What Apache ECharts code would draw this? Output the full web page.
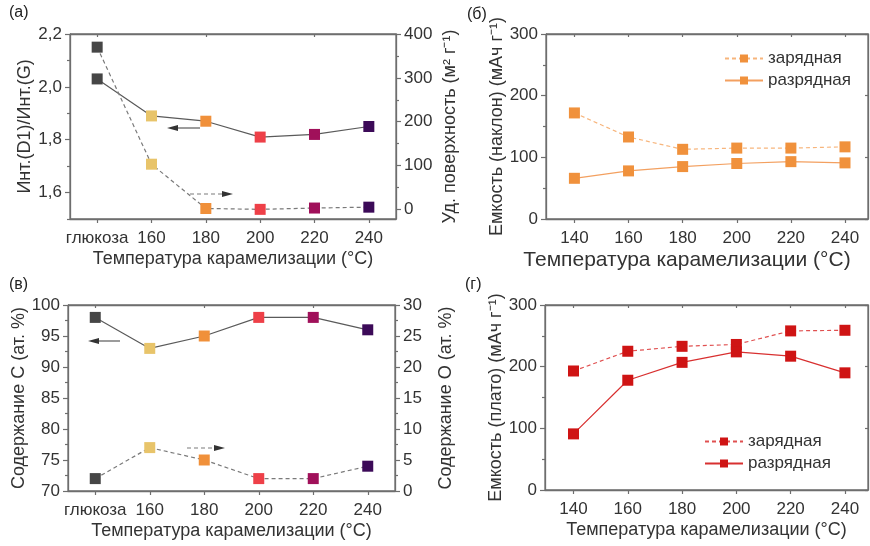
<!DOCTYPE html>
<html><head><meta charset="utf-8">
<script src="https://cdn.jsdelivr.net/npm/echarts@6/dist/echarts.min.js"></script>
<style>html,body{margin:0;padding:0;background:#fff}#c{width:870px;height:546px}</style>
</head><body><div id="c"></div>
<script>
// ---- data ----
const catsA = ['глюкоза', '160', '180', '200', '220', '240'];
const ratioD1G = [2.03, 1.89, 1.87, 1.81, 1.82, 1.85];
const surfaceArea = [370, 103, 2, 0, 3, 5];
const pointColors = ['#464646', '#e8c46a', '#f0903a', '#ee4048', '#a0105a', '#3c0a58'];
const contentC = [98, 93, 95, 98, 98, 96];
const contentO = [2, 7, 5, 2, 2, 4];
const tempsB = [140, 160, 180, 200, 220, 240];
const slopeCharge = [172, 133, 113, 115, 115, 117];
const slopeDischarge = [66, 78, 85, 90, 93, 91];
const plateauCharge = [193, 225, 233, 236, 258, 259];
const plateauDischarge = [91, 178, 207, 224, 217, 190];
const leftTicksA = [1.6, 1.8, 2.0, 2.2];
const leftMinorA = [1.5, 1.7, 1.9, 2.1];
const rightTicksA = [0, 100, 200, 300, 400];
const rightMinorA = [50, 150, 250, 350];

const FONT = 'Liberation Sans';
const TXT = '#333';
const AX = '#6e6e6e';

const chart = echarts.init(document.getElementById('c'));

const G = [
  {left: 70, top: 34, width: 326, height: 185},
  {left: 546, top: 34, width: 322, height: 185},
  {left: 68, top: 305, width: 327, height: 186},
  {left: 545, top: 305, width: 323, height: 185}
];

function lbl(extra) { return Object.assign({color: TXT, fontSize: 17, fontFamily: FONT}, extra || {}); }
function nameSt(extra) { return Object.assign({color: TXT, fontSize: 18, fontFamily: FONT}, extra || {}); }
function axLine() { return {show: true, onZero: false, lineStyle: {color: AX, width: 1.3}}; }
function tick(len, inside, extra) { return Object.assign({show: true, length: len, inside: !!inside, lineStyle: {color: AX, width: 1.2}}, extra || {}); }

function catBottom(grid, data) {
  return {type: 'category', gridIndex: grid, data: data, position: 'bottom',
    axisLine: axLine(), axisTick: tick(4, false, {alignWithLabel: true}),
    axisLabel: lbl({margin: 11, interval: 0}),
    name: 'Температура карамелизации (°C)', nameLocation: 'middle', nameGap: 31, nameTextStyle: nameSt()};
}
function catTop(grid, data) {
  return {type: 'category', gridIndex: grid, data: data, position: 'top',
    axisLine: axLine(), axisTick: tick(3, true, {alignWithLabel: true}),
    axisLabel: {show: false}};
}
function valBottom(grid, big) {
  return {type: 'value', gridIndex: grid, min: 129.5, max: 248.5, position: 'bottom',
    axisLine: axLine(), splitLine: {show: false},
    axisTick: tick(4, false, {customValues: tempsB}),
    axisLabel: lbl({margin: 11, customValues: tempsB}),
    name: 'Температура карамелизации (°C)', nameLocation: 'middle', nameGap: 31,
    nameTextStyle: nameSt(big ? {fontSize: 21, padding: [0, 40, 0, 0]} : {})};
}
function valTop(grid) {
  return {type: 'value', gridIndex: grid, min: 129.5, max: 248.5, position: 'top',
    axisLine: axLine(), splitLine: {show: false},
    axisTick: tick(3, true, {customValues: tempsB}),
    axisLabel: {show: false}};
}

const xAxis = [
  catBottom(0, catsA), catTop(0, catsA),
  valBottom(1, true), valTop(1),
  catBottom(2, catsA), catTop(2, catsA),
  valBottom(3, false), valTop(3)
];

function minorT() { return {show: true, splitNumber: 2, length: 3, lineStyle: {color: AX, width: 1.2}}; }

const yAxis = [
  {type: 'value', gridIndex: 0, min: 1.5, max: 2.2, position: 'left', splitLine: {show: false},
    axisLine: axLine(), axisTick: tick(5, false, {customValues: leftTicksA}),
    axisLabel: lbl({margin: 8, customValues: leftTicksA, formatter: v => v.toFixed(1).replace('.', ',')}),
    name: 'Инт.(D1)/Инт.(G)', nameLocation: 'middle', nameGap: 33, nameRotate: 90, nameTextStyle: nameSt()},
  {type: 'value', gridIndex: 0, min: 1.5, max: 2.2, position: 'left', splitLine: {show: false},
    axisLine: {show: false, onZero: false}, axisLabel: {show: false},
    axisTick: tick(3, false, {customValues: leftMinorA})},
  {type: 'value', gridIndex: 0, min: -22, max: 400, position: 'right', splitLine: {show: false},
    axisLine: axLine(), axisTick: tick(5, false, {customValues: rightTicksA}),
    axisLabel: lbl({margin: 8, customValues: rightTicksA}),
    name: 'Уд. поверхность (м² г⁻¹)', nameLocation: 'middle', nameGap: 45, nameRotate: 90, nameTextStyle: nameSt()},
  {type: 'value', gridIndex: 0, min: -22, max: 400, position: 'right', splitLine: {show: false},
    axisLine: {show: false, onZero: false}, axisLabel: {show: false},
    axisTick: tick(3, false, {customValues: rightMinorA})},
  {type: 'value', gridIndex: 1, min: 0, max: 300, interval: 100, position: 'left', splitLine: {show: false},
    axisLine: axLine(), axisTick: tick(5), minorTick: minorT(),
    axisLabel: lbl({margin: 8}),
    name: 'Емкость (наклон) (мАч г⁻¹)', nameLocation: 'middle', nameGap: 40, nameRotate: 90, nameTextStyle: nameSt()},
  {type: 'value', gridIndex: 1, min: 0, max: 300, interval: 100, position: 'right', splitLine: {show: false},
    axisLine: axLine(), axisTick: tick(3, true), axisLabel: {show: false}},
  {type: 'value', gridIndex: 2, min: 70, max: 100, interval: 5, position: 'left', splitLine: {show: false},
    axisLine: axLine(), axisTick: tick(5), minorTick: minorT(),
    axisLabel: lbl({margin: 8}),
    name: 'Содержание С (ат. %)', nameLocation: 'middle', nameGap: 38, nameRotate: 90, nameTextStyle: nameSt()},
  {type: 'value', gridIndex: 2, min: 0, max: 30, interval: 5, position: 'right', splitLine: {show: false},
    axisLine: axLine(), axisTick: tick(5), minorTick: minorT(),
    axisLabel: lbl({margin: 8}),
    name: 'Содержание О (ат. %)', nameLocation: 'middle', nameGap: 42, nameRotate: 90, nameTextStyle: nameSt()},
  {type: 'value', gridIndex: 3, min: 0, max: 300, interval: 100, position: 'left', splitLine: {show: false},
    axisLine: axLine(), axisTick: tick(5), minorTick: minorT(),
    axisLabel: lbl({margin: 8}),
    name: 'Емкость (плато) (мАч г⁻¹)', nameLocation: 'middle', nameGap: 37, nameRotate: 90, nameTextStyle: nameSt()},
  {type: 'value', gridIndex: 3, min: 0, max: 300, interval: 100, position: 'right', splitLine: {show: false},
    axisLine: axLine(), axisTick: tick(3, true), axisLabel: {show: false}}
];

function colored(arr) {
  return arr.map((v, i) => ({value: v, itemStyle: {color: pointColors[i]}}));
}
function pairs(xs, ys) { return xs.map((x, i) => [x, ys[i]]); }

const sym = {symbol: 'rect', symbolSize: 11, showSymbol: true};

const series = [
  Object.assign({type: 'line', name: 'ratio', xAxisIndex: 0, yAxisIndex: 0, data: colored(ratioD1G),
    lineStyle: {color: '#5a5a5a', width: 1.2}}, sym),
  Object.assign({type: 'line', name: 'area', xAxisIndex: 0, yAxisIndex: 2, data: colored(surfaceArea),
    lineStyle: {color: '#7a7a7a', width: 1.2, type: [4, 3]}}, sym),
  Object.assign({type: 'line', name: 'зарядная_б', xAxisIndex: 2, yAxisIndex: 4, data: pairs(tempsB, slopeCharge),
    itemStyle: {color: '#f0913c'}, lineStyle: {color: '#f7b57c', width: 1.2, type: [4, 3]}}, sym),
  Object.assign({type: 'line', name: 'разрядная_б', xAxisIndex: 2, yAxisIndex: 4, data: pairs(tempsB, slopeDischarge),
    itemStyle: {color: '#f0913c'}, lineStyle: {color: '#f3a060', width: 1.2}}, sym),
  Object.assign({type: 'line', name: 'C', xAxisIndex: 4, yAxisIndex: 6, data: colored(contentC),
    lineStyle: {color: '#5a5a5a', width: 1.2}}, sym),
  Object.assign({type: 'line', name: 'O', xAxisIndex: 4, yAxisIndex: 7, data: colored(contentO),
    lineStyle: {color: '#7a7a7a', width: 1.2, type: [4, 3]}}, sym),
  Object.assign({type: 'line', name: 'зарядная_г', xAxisIndex: 6, yAxisIndex: 8, data: pairs(tempsB, plateauCharge),
    itemStyle: {color: '#cf1414'}, lineStyle: {color: '#e05050', width: 1.2, type: [4, 3]}}, sym),
  Object.assign({type: 'line', name: 'разрядная_г', xAxisIndex: 6, yAxisIndex: 8, data: pairs(tempsB, plateauDischarge),
    itemStyle: {color: '#cf1414'}, lineStyle: {color: '#d83030', width: 1.2}}, sym)
];

function legendCommon() {
  return {orient: 'vertical', itemWidth: 38, itemHeight: 10, itemGap: 5,
    textStyle: {color: TXT, fontSize: 17, fontFamily: FONT}, formatter: n => n.split('_')[0],
    selectedMode: false};
}

function arrow(x1, x2, y, headLeft, dashed) {
  const tip = headLeft ? x1 : x2;
  const base = headLeft ? x1 + 11 : x2 - 11;
  const st = {stroke: dashed ? '#7a7a7a' : '#5a5a5a', lineWidth: 1.2};
  if (dashed) st.lineDash = [4, 3];
  return [
    {type: 'line', shape: {x1: headLeft ? base : x1, y1: y, x2: headLeft ? x2 : base, y2: y}, style: st},
    {type: 'polygon', shape: {points: [[tip, y], [base, y - 3], [base, y + 3]]}, style: {fill: '#333'}}
  ];
}

// plot frames (box around each panel), drawn like the arrows
function frame(g) {
  const l = g.left, t = g.top, r = g.left + g.width, b = g.top + g.height;
  const st = {stroke: '#707070', lineWidth: 1.3};
  return [
    {type: 'line', shape: {x1: l, y1: t, x2: r, y2: t}, style: st},
    {type: 'line', shape: {x1: l, y1: t, x2: l, y2: b}, style: st},
    {type: 'line', shape: {x1: r, y1: t, x2: r, y2: b}, style: st},
    {type: 'line', shape: {x1: l, y1: b, x2: r, y2: b}, style: st}
  ];
}

const labelStyle = {fill: '#222', fontSize: 16, fontFamily: FONT};
let graphic = [
  {type: 'text', left: 9, top: 5, style: Object.assign({text: '(a)'}, labelStyle)},
  {type: 'text', left: 467, top: 7, style: Object.assign({text: '(б)'}, labelStyle)},
  {type: 'text', left: 9, top: 277, style: Object.assign({text: '(в)'}, labelStyle)},
  {type: 'text', left: 465, top: 277, style: Object.assign({text: '(г)'}, labelStyle)}
].concat(arrow(167, 200, 128, true, false))
 .concat(arrow(190, 233, 194, false, true))
 .concat(arrow(88, 120, 341, true, false))
 .concat(arrow(187, 225, 448, false, true));
G.forEach(g => { graphic = graphic.concat(frame(g)); });

chart.setOption({
  animation: false,
  backgroundColor: '#fff',
  textStyle: {fontFamily: FONT},
  grid: G,
  xAxis: xAxis,
  yAxis: yAxis,
  legend: [
    Object.assign({left: 719, top: 45, data: ['зарядная_б', 'разрядная_б']}, legendCommon()),
    Object.assign({left: 699, top: 428, data: ['зарядная_г', 'разрядная_г']}, legendCommon())
  ],
  series: series,
  graphic: graphic
});
</script></body></html>
